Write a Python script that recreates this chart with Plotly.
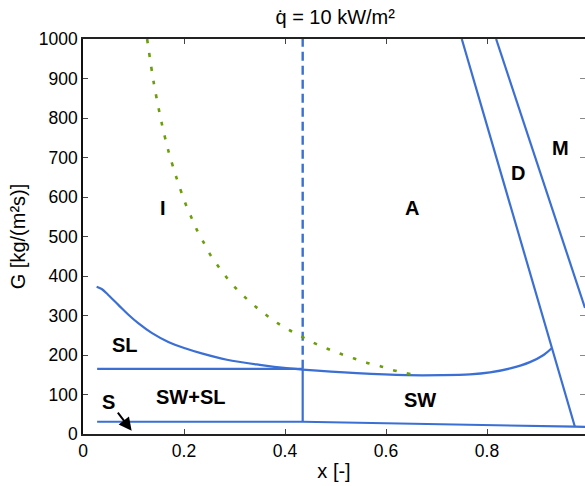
import plotly.graph_objects as go

# ---- data ----
# S / SW boundary
s_x = [0.028, 0.435, 0.974, 0.994]
s_G = [31, 31, 18.5, 18]
# SW / SW+SL vertical boundary
v_x = [0.435, 0.435]
v_G = [31, 165]
# SL / SW+SL horizontal boundary
h_x = [0.028, 0.435]
h_G = [165, 165]
# dashed vertical (I / A)
dv_x = [0.435, 0.435]
dv_G = [165, 1000]
# SL upper boundary curve
sl_x = [0.027, 0.037, 0.050, 0.070, 0.090, 0.110, 0.136, 0.169, 0.202, 0.235, 0.285, 0.350,
        0.408, 0.435, 0.542, 0.641, 0.710, 0.766, 0.806, 0.846, 0.885, 0.912, 0.928]
sl_G = [373, 367, 352, 327, 302, 280, 256, 233, 217, 204, 188, 175,
        166, 163, 154, 149, 149, 151, 156, 166, 182, 200, 217]
# I / A boundary (dotted)
ia_x = [0.127, 0.140, 0.156, 0.169, 0.185, 0.203, 0.214, 0.225, 0.238, 0.251, 0.267, 0.284,
        0.302, 0.321, 0.342, 0.364, 0.386, 0.410, 0.434, 0.458, 0.484, 0.510, 0.537, 0.563,
        0.590, 0.616, 0.643, 0.655]
ia_G = [1000, 890, 786, 717, 649, 583, 550, 518, 487, 456, 426, 397,
        370, 346, 322, 300, 280, 262, 246, 230, 216, 203, 191, 180,
        171, 161, 153, 150]
# A / D boundary
d_x = [0.750, 0.974]
d_G = [1000, 18.5]
# D / M boundary
m_x = [0.818, 0.994]
m_G = [1000, 319]

# region labels
lab_text = ["I", "A", "D", "M", "SL", "SW+SL", "SW", "S"]
lab_x = [0.158, 0.651, 0.862, 0.946, 0.083, 0.213, 0.667, 0.050]
lab_G = [572, 572, 660, 723, 225, 94, 86, 82]
# arrow for S
arr_tail = (0.0667, 58)
arr_head = (0.0964, 8)

xticks = [0, 0.2, 0.4, 0.6, 0.8]
yticks = list(range(0, 1001, 100))

BLUE = "#3b6fd4"
GREEN = "#6b9e0a"
FONT = "Liberation Sans, Arial, sans-serif"

fig = go.Figure()

def line(x, y, color=BLUE, dash="solid", width=2.2):
    fig.add_trace(go.Scatter(x=x, y=y, mode="lines", showlegend=False, hoverinfo="skip",
                             line=dict(color=color, width=width, dash=dash)))

line(s_x, s_G)
line(v_x, v_G)
line(h_x, h_G)
line(dv_x, dv_G, dash="9px,5px", width=2.4)
fig.add_trace(go.Scatter(x=sl_x, y=sl_G, mode="lines", showlegend=False, hoverinfo="skip",
                         line=dict(color=BLUE, width=2.2, shape="spline", smoothing=1.0)))
fig.add_trace(go.Scatter(x=ia_x, y=ia_G, mode="lines", showlegend=False, hoverinfo="skip",
                         line=dict(color=GREEN, width=2.6, dash="4px,10px", shape="spline", smoothing=0.8)))
line(d_x, d_G)
line(m_x, m_G)

for t, xx, yy in zip(lab_text, lab_x, lab_G):
    fig.add_annotation(x=xx, y=yy, text="<b>%s</b>" % t, showarrow=False,
                       font=dict(size=20, color="black", family=FONT))

fig.add_annotation(x=arr_head[0], y=arr_head[1], ax=arr_tail[0], ay=arr_tail[1],
                   axref="x", ayref="y", xref="x", yref="y", text="",
                   showarrow=True, arrowhead=2, arrowsize=1.3, arrowwidth=2, arrowcolor="black")

fig.update_layout(
    width=585, height=486,
    margin=dict(l=83, r=0, t=39, b=52),
    paper_bgcolor="white", plot_bgcolor="white",
    font=dict(family=FONT, size=17.5, color="black"),
    title=dict(text="q\u0307 = 10 kW/m\u00b2", x=0.573, xanchor="center", y=0.965, yanchor="middle",
               font=dict(size=20, family=FONT, color="black")),
    xaxis=dict(range=[0, 0.994], tickvals=xticks, ticktext=["0", "0.2", "0.4", "0.6", "0.8"],
               showgrid=False, zeroline=False, showline=True, linecolor="#222", linewidth=1.5,
               mirror="ticks", ticks="inside", ticklen=5, tickcolor="#444",
               title=dict(text="x [-]", font=dict(size=20), standoff=4)),
    yaxis=dict(range=[0, 1000], tickvals=yticks, showgrid=False, zeroline=False,
               showline=True, linecolor="#111", linewidth=1.5, ticks="inside", ticklen=5,
               tickcolor="#444", title=dict(text="G [kg/(m\u00b2s)]", font=dict(size=20), standoff=8)),
    yaxis2=dict(range=[0, 1000], tickvals=yticks, overlaying="y", side="right", showgrid=False,
                zeroline=False, showline=False, ticks="inside", ticklen=5, tickcolor="#888",
                showticklabels=False),
)
fig.add_trace(go.Scatter(x=[0.5], y=[500], yaxis="y2", mode="markers", marker=dict(opacity=0),
                         showlegend=False, hoverinfo="skip"))

fig.write_html("out.html")
